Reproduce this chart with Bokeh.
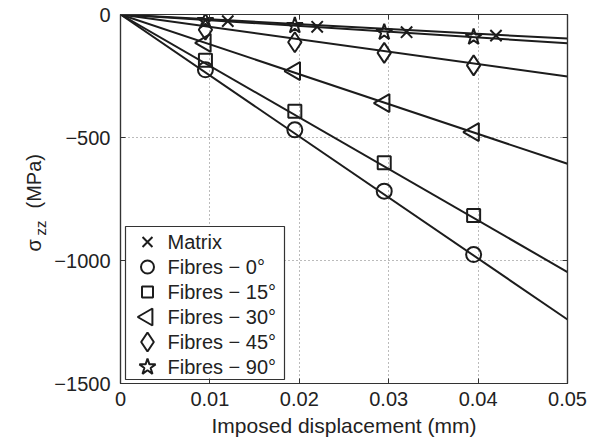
import math
from bokeh.plotting import figure
from bokeh.layouts import row
from bokeh.models import LinearAxis, FixedTicker, Range1d, Grid
from bokeh.core.properties import value
from bokeh.embed import file_html
from bokeh.resources import INLINE

# ---- data ----
series_names = ["Matrix", "Fibres \u2212 0\u00b0", "Fibres \u2212 15\u00b0",
                "Fibres \u2212 30\u00b0", "Fibres \u2212 45\u00b0", "Fibres \u2212 90\u00b0"]
x_matrix = [0.012, 0.022, 0.032, 0.042]
x_fibres = [0.0095, 0.0195, 0.0295, 0.0395]
y_matrix = [-27, -50, -72, -86]
y_f0 = [-225, -469, -718, -976]
y_f15 = [-186, -393, -603, -817]
y_f30 = [-115, -230, -360, -478]
y_f45 = [-62, -113, -156, -207]
y_f90 = [-25, -45, -72, -92]
line_x = [0.0, 0.05]
line_end_matrix = -98
line_end_f0 = -1240
line_end_f15 = -1047
line_end_f30 = -607
line_end_f45 = -252
line_end_f90 = -117
x_ticks = [0, 0.01, 0.02, 0.03, 0.04, 0.05]
x_tick_labels = ["0", "0.01", "0.02", "0.03", "0.04", "0.05"]
y_ticks = [0, -500, -1000, -1500]
y_tick_labels = ["0", "\u2212500", "\u22121000", "\u22121500"]
y_label_parts = ["\u03c3", "zz", "(MPa)"]

FONT = "Liberation Sans"
INK = "#1c1c1c"
TXT = "#222222"

W, H = 600, 443
LAB_W = 50
TOP, BOTTOM = 14, 60
FRAME_W, FRAME_H = 447, H - TOP - BOTTOM
p = figure(width=W - LAB_W, height=H, output_backend="svg", toolbar_location=None,
           title=None,
           x_range=Range1d(0, 0.05), y_range=Range1d(-1500, 0),
           min_border_left=120 - LAB_W, min_border_right=33,
           min_border_top=TOP, min_border_bottom=BOTTOM,
           x_axis_type=None, y_axis_type=None)
p.background_fill_color = "white"
p.border_fill_color = "white"
p.outline_line_color = "#333333"
p.outline_line_width = 1.2
# pixel-like ranges for the legend layout
p.extra_x_ranges["px"] = Range1d(0, FRAME_W)
p.extra_y_ranges["py"] = Range1d(0, FRAME_H)

def style_axis(ax, labels, show):
    ax.major_tick_in = 5
    ax.major_tick_out = 0
    ax.minor_tick_line_color = None
    ax.axis_line_color = "#333333"
    ax.axis_line_width = 1.2
    ax.major_tick_line_color = "#333333"
    ax.major_tick_line_width = 1
    ax.major_label_text_font = FONT
    ax.major_label_text_font_size = "20px"
    ax.major_label_text_color = TXT if show else None
    ax.major_label_overrides = labels

xb = LinearAxis(ticker=FixedTicker(ticks=x_ticks))
style_axis(xb, dict(zip(x_ticks, x_tick_labels)), True)
xb.major_label_standoff = 8
xb.axis_label = "Imposed displacement (mm)"
xb.axis_label_text_font = FONT
xb.axis_label_text_font_size = "21px"
xb.axis_label_text_font_style = "normal"
xb.axis_label_text_color = TXT
xb.axis_label_standoff = 5
p.add_layout(xb, "below")

xt = LinearAxis(ticker=FixedTicker(ticks=x_ticks))
style_axis(xt, {}, False)
xt.major_label_text_font_size = "0px"
xt.major_label_standoff = 0
p.add_layout(xt, "above")

yl = LinearAxis(ticker=FixedTicker(ticks=y_ticks))
style_axis(yl, dict(zip(y_ticks, y_tick_labels)), True)
yl.major_label_standoff = 10
p.add_layout(yl, "left")

yr = LinearAxis(ticker=FixedTicker(ticks=y_ticks))
style_axis(yr, {}, False)
yr.major_label_text_font_size = "0px"
yr.major_label_standoff = 0
p.add_layout(yr, "right")

gx = Grid(dimension=0, ticker=FixedTicker(ticks=x_ticks[1:-1]),
          grid_line_color="#777777", grid_line_dash="1 3", grid_line_width=1)
gy = Grid(dimension=1, ticker=FixedTicker(ticks=y_ticks[1:-1]),
          grid_line_color="#777777", grid_line_dash="1 3", grid_line_width=1)
p.add_layout(gx)
p.add_layout(gy)

# fitted lines
for end in [line_end_matrix, line_end_f0, line_end_f15, line_end_f30, line_end_f45, line_end_f90]:
    p.line(line_x, [0, end], line_color=INK, line_width=2)

# markers: (x, y, marker, size, angle, legend size)
specs = [
    (x_matrix, y_matrix, "x", 16, 0.0, 14),
    (x_fibres, y_f0, "circle", 15, 0.0, 13),
    (x_fibres, y_f15, "square", 13, 0.0, 11),
    (x_fibres, y_f30, "triangle", 18, math.pi / 2, 17),
    (x_fibres, y_f45, "diamond", 20, 0.0, 19),
    (x_fibres, y_f90, "star", 17, 0.0, 17),
]
for xs, ys, mk, sz, ang, _ in specs:
    p.scatter(xs, ys, marker=mk, size=sz, angle=ang, fill_color=None,
              line_color=INK, line_width=2)

# legend box drawn in frame-pixel coordinates
LEG_L, LEG_R, LEG_B, LEG_T = 5, 164, 4, 157
ROW0, ROW_H, GLYPH_X, TEXT_X = 141.5, 25, 27, 47
p.quad(left=[LEG_L], right=[LEG_R], bottom=[LEG_B], top=[LEG_T],
       x_range_name="px", y_range_name="py",
       fill_color="white", line_color="#333333", line_width=1.2)
for i, (xs, ys, mk, sz, ang, lsz) in enumerate(specs):
    p.scatter([GLYPH_X], [ROW0 - i * ROW_H], marker=mk, size=lsz, angle=ang,
              x_range_name="px", y_range_name="py",
              fill_color=None, line_color=INK, line_width=2)
p.text(x=[TEXT_X] * len(series_names), y=[ROW0 - i * ROW_H for i in range(len(series_names))],
       text=series_names, x_range_name="px", y_range_name="py",
       text_font=value(FONT), text_font_size="20px", text_color=TXT,
       text_baseline="middle", text_align="left")

# narrow side panel holding the y-axis title sigma_zz (MPa); same vertical borders as the
# main plot so that both frames line up; its ranges are canvas pixels (bottom origin)
lab = figure(width=LAB_W, height=H, output_backend="svg", toolbar_location=None,
             title=None,
             x_range=Range1d(0, LAB_W), y_range=Range1d(BOTTOM, H - TOP),
             min_border_left=0, min_border_right=0,
             min_border_top=TOP, min_border_bottom=BOTTOM,
             x_axis_type=None, y_axis_type=None)
lab.outline_line_color = None
lab.grid.visible = False
lab.background_fill_color = "white"
lab.border_fill_color = "white"
# (x baseline, y start measured from the top, font size)
lab_pos = [(33, 251, "20px"), (40, 235, "15px"), (33, 208, "20px")]
for txt, (lx, ly, fs) in zip(y_label_parts, lab_pos):
    lab.text(x=[lx], y=[H - ly], text=[txt], angle=math.pi / 2,
             text_font=value(FONT), text_font_size=fs, text_color=TXT,
             text_align="left", text_baseline="alphabetic")

layout = row(lab, p, spacing=0)
open("out.html", "w").write(file_html(layout, INLINE))
